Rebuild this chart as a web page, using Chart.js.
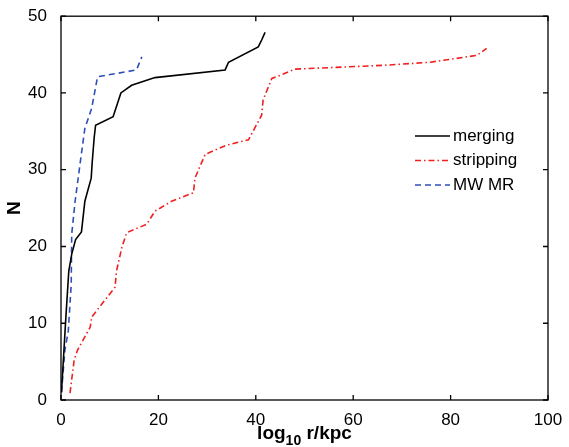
<!DOCTYPE html>
<html lang="en">
<head>
<meta charset="UTF-8">
<title>N vs log10 r/kpc</title>
<script src="https://cdn.jsdelivr.net/npm/chart.js"></script>
<style>
  html, body { margin: 0; padding: 0; background: #fff; }
  #wrap { width: 569px; height: 447px; }
</style>
</head>
<body>
<div id="wrap"><canvas id="chart"></canvas></div>
<script>
// values
const xTicks = [0, 20, 40, 60, 80, 100];
const yTicks = [0, 10, 20, 30, 40, 50];

const mergingX = [0.1, 1.0, 1.6, 2.2, 3.0, 4.2, 4.9, 6.2, 6.4, 6.8, 7.1, 10.7, 12.3, 14.5, 19.3, 33.7, 34.4, 40.5, 41.2, 41.9];
const mergingN = [1.0, 10.8, 16.8, 19.0, 20.9, 21.9, 25.9, 28.9, 30.9, 34.1, 35.8, 36.9, 40.0, 41.0, 42.0, 43.0, 44.0, 46.0, 46.9, 47.9];

const strippingX = [1.85, 2.7, 3.4, 6.0, 6.3, 9.0, 11.1, 11.4, 12.5, 13.5, 17.6, 19.3, 22.7, 24.4, 27.2, 27.5, 29.6, 34.0, 38.5, 41.2, 41.5, 43.3, 45.0, 48.0, 55.2, 66.2, 75.8, 85.4, 87.4];
const strippingN = [0.9, 5.2, 6.5, 9.5, 10.8, 13.0, 14.7, 16.8, 19.9, 21.8, 22.9, 24.6, 25.9, 26.3, 27.0, 28.9, 32.0, 33.2, 33.9, 37.1, 39.1, 41.9, 42.3, 43.1, 43.3, 43.6, 44.0, 44.9, 45.8];

const mwmrX = [0.1, 0.8, 1.5, 2.1, 2.2, 2.9, 3.9, 4.9, 6.3, 7.5, 15.5, 16.6];
const mwmrN = [1.0, 6.5, 9.0, 15.1, 21.6, 25.9, 30.7, 35.4, 38.0, 42.1, 43.0, 44.7];

const seriesNames = ['merging', 'stripping', 'MW MR'];

const pts = (xs, ys) => xs.map((x, i) => ({ x: x, y: ys[i] }));

const FONT = 'Liberation Sans, Arial, Helvetica, sans-serif';

// box with inward ticks, axis titles and the in-plot legend
const decor = {
  id: 'decor',
  afterDraw(chart) {
    const { ctx, chartArea: a, scales } = chart;
    ctx.save();
    ctx.strokeStyle = '#000';
    ctx.lineWidth = 1.3;
    ctx.strokeRect(a.left, a.top, a.right - a.left, a.bottom - a.top);
    const tl = 5;
    ctx.beginPath();
    xTicks.forEach(t => {
      const px = scales.x.getPixelForValue(t);
      ctx.moveTo(px, a.bottom); ctx.lineTo(px, a.bottom - tl);
      ctx.moveTo(px, a.top); ctx.lineTo(px, a.top + tl);
    });
    yTicks.forEach(t => {
      const py = scales.y.getPixelForValue(t);
      ctx.moveTo(a.left, py); ctx.lineTo(a.left + tl, py);
      ctx.moveTo(a.right, py); ctx.lineTo(a.right - tl, py);
    });
    ctx.stroke();

    // x title with subscript
    ctx.fillStyle = '#000';
    ctx.textBaseline = 'alphabetic';
    ctx.textAlign = 'left';
    const big = 'bold 19px ' + FONT, small = 'bold 14px ' + FONT;
    ctx.font = big; const w1 = ctx.measureText('log').width;
    ctx.font = small; const w2 = ctx.measureText('10').width;
    ctx.font = big; const w3 = ctx.measureText(' r/kpc').width;
    let x0 = (a.left + a.right) / 2 - (w1 + w2 + w3) / 2;
    const base = 439;
    ctx.font = big; ctx.fillText('log', x0, base);
    ctx.font = small; ctx.fillText('10', x0 + w1, base + 6);
    ctx.font = big; ctx.fillText(' r/kpc', x0 + w1 + w2, base);

    // y title
    ctx.save();
    ctx.translate(20, (a.top + a.bottom) / 2);
    ctx.rotate(-Math.PI / 2);
    ctx.textAlign = 'center';
    ctx.font = 'bold 19px ' + FONT;
    ctx.fillText('N', 0, 0);
    ctx.restore();

    // legend
    ctx.font = '17px ' + FONT;
    ctx.textBaseline = 'middle';
    chart.data.datasets.forEach((ds, i) => {
      const y = 136 + i * 24.5;
      ctx.strokeStyle = ds.borderColor;
      ctx.lineWidth = ds.borderWidth;
      ctx.setLineDash(ds.borderDash || []);
      ctx.beginPath(); ctx.moveTo(415, y); ctx.lineTo(450, y); ctx.stroke();
      ctx.setLineDash([]);
      ctx.fillStyle = '#000';
      ctx.fillText(seriesNames[i], 453, y);
    });
    ctx.restore();
  }
};

new Chart(document.getElementById('chart'), {
  type: 'line',
  data: {
    datasets: [
      { label: seriesNames[0], data: pts(mergingX, mergingN), borderColor: '#000000', borderWidth: 1.6, pointRadius: 0, tension: 0 },
      { label: seriesNames[1], data: pts(strippingX, strippingN), borderColor: '#f02020', borderWidth: 1.6, borderDash: [6, 3, 1.5, 3], pointRadius: 0, tension: 0 },
      { label: seriesNames[2], data: pts(mwmrX, mwmrN), borderColor: '#2d4fb8', borderWidth: 1.6, borderDash: [6, 4], pointRadius: 0, tension: 0 }
    ]
  },
  options: {
    responsive: true,
    maintainAspectRatio: false,
    animation: false,
    layout: { padding: { top: 14, right: 21, left: 0, bottom: 0 } },
    plugins: { legend: { display: false }, tooltip: { enabled: false } },
    scales: {
      x: {
        type: 'linear', min: 0, max: 100,
        afterBuildTicks: s => { s.ticks = xTicks.map(v => ({ value: v })); },
        afterFit: s => { s.height = 47; },
        grid: { display: false },
        border: { display: false },
        ticks: { color: '#000', font: { size: 17, family: FONT }, padding: 2, maxRotation: 0 }
      },
      y: {
        type: 'linear', min: 0, max: 50,
        afterBuildTicks: s => { s.ticks = yTicks.map(v => ({ value: v })); },
        afterFit: s => { s.width = 61; },
        grid: { display: false },
        border: { display: false },
        ticks: { color: '#000', font: { size: 17, family: FONT }, padding: 6 }
      }
    }
  },
  plugins: [decor]
});
</script>
</body>
</html>
